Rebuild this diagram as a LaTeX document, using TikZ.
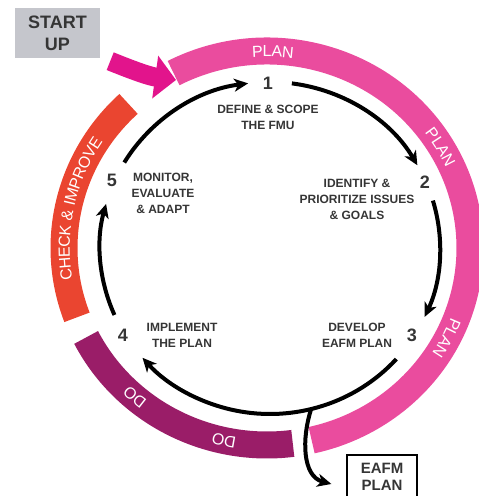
\documentclass[tikz,border=0pt]{standalone}
\usepackage{fontspec}
\setsansfont{Liberation Sans}
\usetikzlibrary{arrows.meta,decorations.text}
\definecolor{plancol}{HTML}{EA4C9E}
\definecolor{docol}{HTML}{9A1D68}
\definecolor{checkcol}{HTML}{EA4530}
\definecolor{startcol}{HTML}{E2148C}
\definecolor{boxgray}{HTML}{C5C6CC}
\definecolor{labgray}{HTML}{353535}
\newcommand{\ringfont}{\sffamily\fontsize{16}{16}\selectfont}
\tikzset{
	band/.style={line width=27pt},
	cycarrow/.style={line width=4pt, -{Stealth[length=14pt,width=13pt,inset=4pt]}},
	stepnum/.style={font=\sffamily\bfseries\fontsize{18}{18}\selectfont, text=labgray},
	steplabel/.style={font=\sffamily\bfseries\fontsize{12}{16}\selectfont, text=labgray, align=center},
	ringlabel/.style={decorate, decoration={text along path, text={|\ringfont|#1}, text align=center, text color=white, raise=-5.7pt}}
}

\begin{document}
\begin{tikzpicture}[x=1pt, y=1pt]
		\useasboundingbox (0,0) rectangle (479,496);

		% Start box and output box
		\node[fill=boxgray, minimum width=85pt, minimum height=50pt, align=center, text=labgray,
			font=\sffamily\bfseries\fontsize{18}{22}\selectfont] (start) at (57.5,463) {START\\UP};
		\node[draw=black, line width=1.3pt, minimum width=70pt, minimum height=43pt, inner sep=0pt, align=center, text=labgray,
			font=\sffamily\bfseries\fontsize{15}{17}\selectfont] (eafm) at (382,19.5) {EAFM\\PLAN};

		% Outer ring
		\begin{scope}[shift={(267,248)}]
			\draw[band, plancol] (117.4:203 and 197) arc[start angle=117.4, end angle=-77.3, x radius=203, y radius=197];
			\draw[band, docol] (-82.7:203 and 197) arc[start angle=-82.7, end angle=-153, x radius=203, y radius=197];
			\draw[band, checkcol] (200.6:203 and 197) arc[start angle=200.6, end angle=133, x radius=203, y radius=197];

			% Ring labels
			\foreach \a in {88.3, 30.6, -27}
				\path[ringlabel=PLAN] (\a+40:203 and 197) arc[start angle=\a+40, end angle=\a-40, x radius=203, y radius=197];
			\foreach \a in {228.9, 257.6}
				\path[ringlabel=DO] (\a+40:203 and 197) arc[start angle=\a+40, end angle=\a-40, x radius=203, y radius=197];
			\path[ringlabel={CHECK {\&} IMPROVE}] (208:203 and 197) arc[start angle=208, end angle=128, x radius=203, y radius=197];
		\end{scope}

		% Start arrow
		\coordinate (entry) at (176,416);
		\draw[line width=19pt, startcol, -{Triangle[length=21pt,width=42pt]}]
			([shift={(10pt,-3pt)}]start.south east) to[out=-22, in=172] (entry);

		% Steps
		\node[stepnum] (n1) at (268,413) {1};
		\node[stepnum] (n2) at (425,314) {2};
		\node[stepnum] (n3) at (412,161) {3};
		\node[stepnum] (n4) at (123,161) {4};
		\node[stepnum] (n5) at (112,316) {5};
		\node[steplabel] (l1) at (268,379) {DEFINE \& SCOPE\\THE FMU};
		\node[steplabel] (l2) at (357,297) {IDENTIFY \&\\PRIORITIZE ISSUES\\\& GOALS};
		\node[steplabel] (l3) at (357,161) {DEVELOP\\EAFM PLAN};
		\node[steplabel] (l4) at (182,161) {IMPLEMENT\\THE PLAN};
		\node[steplabel] (l5) at (163,303) {MONITOR,\\EVALUATE\\\& ADAPT};

		% Cycle arrows
		\begin{scope}[shift={(270,248)}]
			\draw[cycarrow] (82.6:170 and 166) arc[start angle=82.6, end angle=29.9, x radius=170, y radius=166];
			\draw[cycarrow] (16.6:170 and 166) arc[start angle=16.6, end angle=-24.5, x radius=170, y radius=166];
			\draw[cycarrow] (-42:170 and 166) arc[start angle=-42, end angle=-138.6, x radius=170, y radius=166];
			\draw[cycarrow] (203.8:170 and 166) arc[start angle=203.8, end angle=164.6, x radius=170, y radius=166];
			\draw[cycarrow] (149:170 and 166) arc[start angle=149, end angle=97.4, x radius=170, y radius=166];
			\coordinate (fork) at (-76:170 and 166);
		\end{scope}
		\draw[cycarrow] (fork) to[out=-108, in=165] ([shift={(-15pt,-7.5pt)}]eafm.west);
	\end{tikzpicture}
\end{document}
